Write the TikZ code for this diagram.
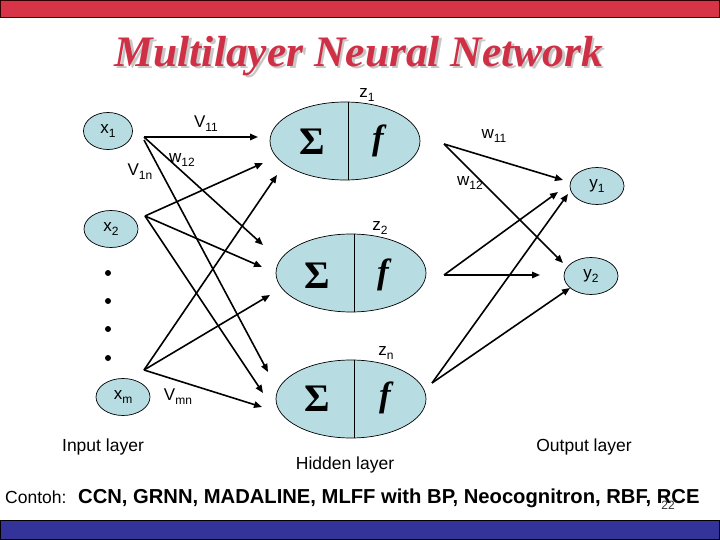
\documentclass[tikz,border=0pt]{standalone}
\usepackage{fontspec}
\setmainfont{Liberation Sans}
\newfontfamily\serifx{Liberation Serif}
\usetikzlibrary{arrows.meta,shapes.geometric}
\definecolor{barred}{RGB}{216,52,72}
\definecolor{titlered}{RGB}{208,48,70}
\definecolor{barblue}{RGB}{51,51,153}
\definecolor{cellblue}{RGB}{183,221,227}
\newcommand\sbs[1]{\raisebox{-0.45ex}{\fontsize{12}{12}\selectfont #1}}
\newcommand\shadowed[1]{\rlap{\hspace{2.5pt}\raisebox{-2.5pt}{\color{black!22}#1}}#1}
\tikzset{
  inp/.style={ellipse,draw=black,line width=0.7pt,fill=cellblue,minimum width=#1,minimum height=37pt,inner sep=0pt,font=\fontsize{17}{20}\selectfont},
  hid/.style={ellipse,draw=black,line width=0.7pt,fill=cellblue,minimum width=150pt,minimum height=78pt,inner sep=0pt},
  lbl/.style={inner sep=0pt,font=\fontsize{17}{20}\selectfont},
  sym/.style={inner sep=0pt,font=\fontsize{39}{40}\selectfont\serifx\bfseries},
  fsym/.style={inner sep=0pt,font=\fontsize{35}{36}\selectfont\serifx\bfseries\itshape},
  layer/.style={inner sep=0pt,font=\fontsize{17.5}{20}\selectfont},
  arr/.style={line width=1.6pt,-{Triangle[length=8pt,width=6.5pt]}},
  dotn/.style={circle,fill=black,inner sep=0pt,minimum size=6pt}
}
\begin{document}
\begin{tikzpicture}[x=1pt,y=-1pt]
\useasboundingbox (0,0) rectangle (720,540);
\fill[white] (0,0) rectangle (720,540);
% bars
\draw[fill=barred,draw=black!80!red,line width=1pt] (0.5,0.5) rectangle (719.5,18);
\draw[fill=barblue,draw=black,line width=1pt] (0.5,520) rectangle (719.5,539.5);
% title
\node[text=titlered,inner sep=0pt,font=\fontsize{43.5}{46}\selectfont\serifx\bfseries\itshape] (title) at (359,57) {\shadowed{Multilayer Neural Network}};
% input nodes
\node[inp=49pt] (x1) at (108,131) {x\sbs{1}};
\node[inp=54pt] (x2) at (111,229) {x\sbs{2}};
\node[inp=54pt] (xm) at (123,397) {x\sbs{m}};
\node[dotn] (d1) at (108,273) {};
\node[dotn] (d2) at (108,301) {};
\node[dotn] (d3) at (108,329) {};
\node[dotn] (d4) at (108,358) {};
% hidden nodes
\node[hid] (z1) at (345,141) {};
\node[hid] (z2) at (351,273) {};
\node[hid] (zn) at (351,399) {};
\foreach \n in {z1,z2,zn}{
  \draw[line width=0.7pt] ([xshift=3pt]\n.north) -- ([xshift=3pt]\n.south);
}
\node[sym] (s1) at (312,142) {Σ};
\node[sym] (s2) at (317,276) {Σ};
\node[sym] (s3) at (317,399) {Σ};
\node[fsym] (f1) at (378,141) {f};
\node[fsym] (f2) at (383,275) {f};
\node[fsym] (f3) at (385,398) {f};
% output nodes
\node[inp=54pt] (y1) at (597,186) {y\sbs{1}};
\node[inp=54pt] (y2) at (591,276) {y\sbs{2}};
% arrow start/end coordinates
\coordinate (a1) at (144,137);
\coordinate (a1b) at (144,140);
\coordinate (a2) at (145,216);
\coordinate (am) at (144,370);
\coordinate (e11) at (258,137);
\coordinate (e12) at (263,245);
\coordinate (e1n) at (268,372);
\coordinate (e21) at (263,163);
\coordinate (e22) at (262,267);
\coordinate (e2n) at (263,393);
\coordinate (em1) at (277,175);
\coordinate (em2) at (270,295);
\coordinate (emn) at (262,407);
\coordinate (o1) at (444,144);
\coordinate (o2) at (444,275);
\coordinate (on) at (432,383);
\coordinate (r11) at (563,180);
\coordinate (r12) at (563,263);
\coordinate (r21) at (558,192);
\coordinate (r22) at (540,275);
\coordinate (rn1) at (568,194);
\coordinate (rn2) at (570,288);
\draw[arr] (a1) -- (e11);
\draw[arr] (a1) -- (e12);
\draw[arr] (a1b) -- (e1n);
\draw[arr] (a2) -- (e21);
\draw[arr] (a2) -- (e22);
\draw[arr] (a2) -- (e2n);
\draw[arr] (am) -- (em1);
\draw[arr] (am) -- (em2);
\draw[arr] (am) -- (emn);
\draw[arr] (o1) -- (r11);
\draw[arr] (o1) -- (r12);
\draw[arr] (o2) -- (r21);
\draw[arr] (o2) -- (r22);
\draw[arr] (on) -- (rn1);
\draw[arr] (on) -- (rn2);
% weight labels
\node[lbl] (lv11) at (206,124) {V\sbs{11}};
\node[lbl] (lv1n) at (140,172) {V\sbs{1n}};
\node[lbl] (lw12a) at (182,160) {w\sbs{12}};
\node[lbl] (lvmn) at (178,397) {V\sbs{mn}};
\node[lbl] (lw11) at (494,136) {w\sbs{11}};
\node[lbl] (lw12b) at (470,183) {w\sbs{12}};
\node[lbl] (lz1) at (367,95) {z\sbs{1}};
\node[lbl] (lz2) at (380,228) {z\sbs{2}};
\node[lbl] (lzn) at (386,353) {z\sbs{n}};
% layer labels
\node[layer] (lin) at (103,447) {Input layer};
\node[layer] (lhid) at (345,465) {Hidden layer};
\node[layer] (lout) at (584,447) {Output layer};
% bottom text
\node[anchor=base west,inner sep=0pt,font=\fontsize{17.5}{20}\selectfont] (contoh) at (5,503) {Contoh:};
\node[anchor=base west,inner sep=0pt,font=\fontsize{20.2}{23}\selectfont\bfseries] (list) at (78,503) {CCN, GRNN, MADALINE, MLFF with BP, Neocognitron, RBF, RCE};
\node[inner sep=0pt,font=\fontsize{12}{12}\selectfont,text=black!80] (pg) at (668,505) {22};
\end{tikzpicture}
\end{document}
